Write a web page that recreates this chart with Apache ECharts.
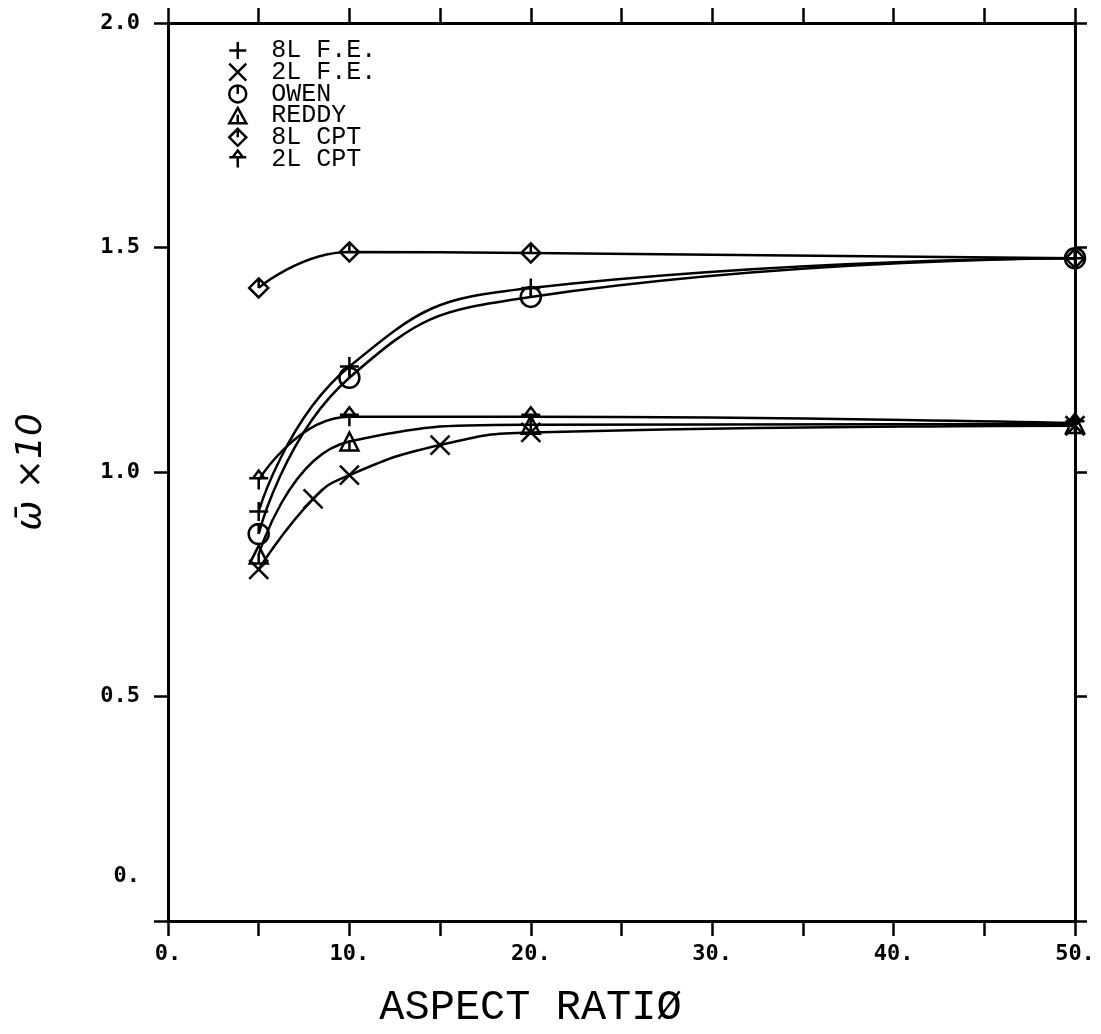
<!DOCTYPE html>
<html><head><meta charset="utf-8">
<script src="https://cdn.jsdelivr.net/npm/echarts@6/dist/echarts.min.js"></script>
<style>html,body{margin:0;padding:0;background:#fff}#c{width:1101px;height:1034px}</style>
</head><body><div id="c"></div>
<script>
// ---- data ----
const seriesNames = ['8L F.E.', '2L F.E.', 'OWEN', 'REDDY', '8L CPT', '2L CPT'];
const xFE8 = [5, 10, 20, 50];
const yFE8 = [0.912, 1.235, 1.41, 1.476];
const xFE2 = [5, 8, 10, 15, 20, 50];
const yFE2 = [0.783, 0.94, 0.993, 1.06, 1.088, 1.103];
const xOwen = [5, 10, 20, 50];
const yOwen = [0.862, 1.21, 1.39, 1.476];
const xReddy = [5, 10, 20, 50];
const yReddy = [0.816, 1.068, 1.105, 1.107];
const xCPT8 = [5, 10, 20, 50];
const yCPT8 = [1.41, 1.49, 1.488, 1.476];
const xCPT2 = [5, 10, 20, 50];
const yCPT2 = [0.982, 1.123, 1.123, 1.109];
const xTicks = [0, 10, 20, 30, 40, 50];
const yTicks = [0, 0.5, 1.0, 1.5, 2.0];

// ---- marker shapes ----
const symPlus = 'path://M10 0 L10 20 M0 10 L20 10';
const symX = 'path://M0 0 L20 20 M20 0 L0 20';
const symOwen = 'path://M10 0 A10 10 0 1 1 9.99 0 Z M10 0 L10 10';
const symReddy = 'path://M10 1 L20 19 L0 19 Z M10 9 L10 19';
const symDiamond = 'path://M10 0 L20 10 L10 20 L0 10 Z M10 0 L10 10';
const symArrow = 'path://M4 8 L10 0 L16 8 Z M0 8 L20 8 M10 8 L10 20';
const symbols = [symPlus, symX, symOwen, symReddy, symDiamond, symArrow];
const sizes = [19, 19, 20, 18, 19, 19];
const xs = [xFE8, xFE2, xOwen, xReddy, xCPT8, xCPT2];
const ys = [yFE8, yFE2, yOwen, yReddy, yCPT8, yCPT2];

const mono = '"DejaVu Sans Mono", monospace';
const plot = '"Liberation Mono", "DejaVu Sans Mono", monospace';

const markStyle = {color: 'rgba(0,0,0,0)', borderColor: '#000', borderWidth: 2.5};

const series = seriesNames.map((n, i) => ({
  name: n,
  type: 'line',
  xAxisIndex: 0, yAxisIndex: 0,
  data: xs[i].map((x, j) => [x, ys[i][j]]),
  smooth: 0.5,
  symbol: symbols[i],
  symbolSize: sizes[i],
  showAllSymbol: true,
  lineStyle: {color: '#000', width: 2.5},
  itemStyle: markStyle,
  emphasis: {disabled: true},
  z: 3
}));

const chart = echarts.init(document.getElementById('c'), null, {renderer: 'canvas'});
chart.setOption({
  animation: false,
  backgroundColor: '#fff',
  grid: {left: 168, right: 26, top: 23, bottom: 99, containLabel: false},
  legend: {
    orient: 'vertical', left: 228, top: 38, padding: 0,
    itemWidth: 17, itemHeight: 17, itemGap: -3.3,
    selectedMode: false,
    data: seriesNames.map((n, i) => ({name: n, icon: symbols[i], itemStyle: markStyle})),
    textStyle: {fontFamily: plot, fontSize: 25, color: '#000', padding: [0, 0, 0, 20]}
  },
  xAxis: [{
    type: 'value', position: 'bottom', min: 0, max: 50, interval: 5,
    name: 'ASPECT RATIØ', nameLocation: 'middle', nameGap: 66,
    nameTextStyle: {fontFamily: plot, fontSize: 42, color: '#000', padding: [0, 182, 0, 0]},
    axisLine: {show: true, onZero: false, lineStyle: {color: '#000', width: 3}},
    axisTick: {show: true, inside: false, length: 15, lineStyle: {color: '#000', width: 2.5}},
    axisLabel: {show: true, margin: 22, fontFamily: mono, fontWeight: 'bold', fontSize: 22, color: '#000',
      formatter: v => (xTicks.indexOf(v) >= 0 ? v + '.' : '')},
    splitLine: {show: false}
  }, {
    type: 'value', position: 'top', min: 0, max: 50, interval: 5,
    axisLine: {show: true, onZero: false, lineStyle: {color: '#000', width: 3}},
    axisTick: {show: true, inside: false, length: 15, lineStyle: {color: '#000', width: 2.5}},
    axisLabel: {show: false}, splitLine: {show: false}
  }],
  yAxis: [{
    type: 'value', position: 'left', min: 0, max: 2, interval: 0.5,
    name: 'ω\u0304 ×10', nameLocation: 'middle', nameRotate: 90, nameGap: 118,
    nameTextStyle: {fontFamily: '"DejaVu Sans", sans-serif', fontStyle: 'italic', fontSize: 36, color: '#000'},
    axisLine: {show: true, onZero: false, lineStyle: {color: '#000', width: 3}},
    axisTick: {show: true, inside: false, length: 14, lineStyle: {color: '#000', width: 2.5}},
    axisLabel: {show: true, margin: 28, fontFamily: mono, fontWeight: 'bold', fontSize: 22, color: '#000',
      formatter: v => {
        if (yTicks.indexOf(v) < 0) return '';
        return v === 0 ? '{z|0.}' : v.toFixed(1);
      },
      rich: {z: {fontFamily: mono, fontWeight: 'bold', fontSize: 22, color: '#000', padding: [0, 0, 90, 0]}}},
    splitLine: {show: false}
  }, {
    type: 'value', position: 'right', min: 0, max: 2, interval: 0.5,
    axisLine: {show: true, onZero: false, lineStyle: {color: '#000', width: 3}},
    axisTick: {show: true, inside: false, length: 12, lineStyle: {color: '#000', width: 2.5}},
    axisLabel: {show: false}, splitLine: {show: false}
  }],
  series: series
});
</script></body></html>
